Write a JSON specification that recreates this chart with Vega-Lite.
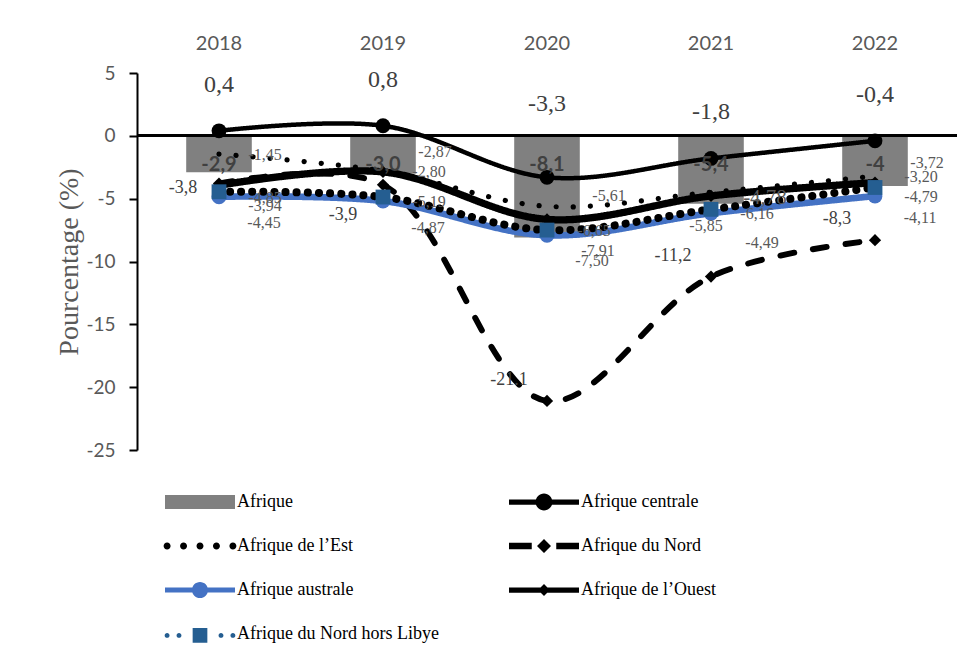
{
  "$schema": "https://vega.github.io/schema/vega-lite/v6.json",
  "width": 820,
  "height": 377,
  "autosize": "none",
  "padding": {"left": 137, "top": 73, "right": 15, "bottom": 214},
  "background": "white",
  "config": {
    "locale": {"number": {"decimal": ",", "thousands": " ", "grouping": [3], "currency": ["", " €"], "minus": "-"}},
    "view": {"stroke": null}
  },
  "data": {
    "values": [
      {"annee": "2018", "serie": "Afrique", "valeur": -2.9, "etiquette": "-2,9"},
      {"annee": "2019", "serie": "Afrique", "valeur": -3.0, "etiquette": "-3,0"},
      {"annee": "2020", "serie": "Afrique", "valeur": -8.1, "etiquette": "-8,1"},
      {"annee": "2021", "serie": "Afrique", "valeur": -5.4, "etiquette": "-5,4"},
      {"annee": "2022", "serie": "Afrique", "valeur": -4.0, "etiquette": "-4"},
      {"annee": "2018", "serie": "Afrique centrale", "valeur": 0.4, "etiquette": "0,4"},
      {"annee": "2019", "serie": "Afrique centrale", "valeur": 0.8, "etiquette": "0,8"},
      {"annee": "2020", "serie": "Afrique centrale", "valeur": -3.3, "etiquette": "-3,3"},
      {"annee": "2021", "serie": "Afrique centrale", "valeur": -1.8, "etiquette": "-1,8"},
      {"annee": "2022", "serie": "Afrique centrale", "valeur": -0.4, "etiquette": "-0,4"},
      {"annee": "2018", "serie": "Afrique de l’Est", "valeur": -1.45, "etiquette": "-1,45"},
      {"annee": "2019", "serie": "Afrique de l’Est", "valeur": -2.80, "etiquette": "-2,80"},
      {"annee": "2020", "serie": "Afrique de l’Est", "valeur": -5.61, "etiquette": "-5,61"},
      {"annee": "2021", "serie": "Afrique de l’Est", "valeur": -4.49, "etiquette": "-4,49"},
      {"annee": "2022", "serie": "Afrique de l’Est", "valeur": -3.20, "etiquette": "-3,20"},
      {"annee": "2018", "serie": "Afrique du Nord", "valeur": -3.8, "etiquette": "-3,8"},
      {"annee": "2019", "serie": "Afrique du Nord", "valeur": -3.9, "etiquette": "-3,9"},
      {"annee": "2020", "serie": "Afrique du Nord", "valeur": -21.1, "etiquette": "-21.1"},
      {"annee": "2021", "serie": "Afrique du Nord", "valeur": -11.2, "etiquette": "-11,2"},
      {"annee": "2022", "serie": "Afrique du Nord", "valeur": -8.3, "etiquette": "-8,3"},
      {"annee": "2018", "serie": "Afrique australe", "valeur": -4.85, "etiquette": "-4,85"},
      {"annee": "2019", "serie": "Afrique australe", "valeur": -5.19, "etiquette": "-5,19"},
      {"annee": "2020", "serie": "Afrique australe", "valeur": -7.91, "etiquette": "-7,91"},
      {"annee": "2021", "serie": "Afrique australe", "valeur": -6.16, "etiquette": "-6,16"},
      {"annee": "2022", "serie": "Afrique australe", "valeur": -4.79, "etiquette": "-4,79"},
      {"annee": "2018", "serie": "Afrique de l’Ouest", "valeur": -3.94, "etiquette": "-3,94"},
      {"annee": "2019", "serie": "Afrique de l’Ouest", "valeur": -2.87, "etiquette": "-2,87"},
      {"annee": "2020", "serie": "Afrique de l’Ouest", "valeur": -6.65, "etiquette": "-6,65"},
      {"annee": "2021", "serie": "Afrique de l’Ouest", "valeur": -4.78, "etiquette": "-4,78"},
      {"annee": "2022", "serie": "Afrique de l’Ouest", "valeur": -3.72, "etiquette": "-3,72"},
      {"annee": "2018", "serie": "Afrique du Nord hors Libye", "valeur": -4.45, "etiquette": "-4,45"},
      {"annee": "2019", "serie": "Afrique du Nord hors Libye", "valeur": -4.87, "etiquette": "-4,87"},
      {"annee": "2020", "serie": "Afrique du Nord hors Libye", "valeur": -7.50, "etiquette": "-7,50"},
      {"annee": "2021", "serie": "Afrique du Nord hors Libye", "valeur": -5.85, "etiquette": "-5,85"},
      {"annee": "2022", "serie": "Afrique du Nord hors Libye", "valeur": -4.11, "etiquette": "-4,11"}
    ]
  },
  "encoding": {
    "x": {
      "field": "annee", "type": "ordinal",
      "scale": {"type": "band", "paddingInner": 0, "paddingOuter": 0},
      "axis": {"orient": "top", "title": null, "domain": false, "ticks": false, "labelAngle": 0,
               "labelFont": "Lato", "labelFontSize": 20, "labelColor": "#595959", "labelPadding": 20}
    },
    "y": {
      "field": "valeur", "type": "quantitative",
      "scale": {"domain": [-25, 5], "nice": false, "zero": false},
      "axis": {"title": "Pourcentage (%)", "titleFont": "Liberation Serif", "titleFontSize": 28,
               "titleFontWeight": "normal", "titleColor": "#595959", "titlePadding": 2,
               "values": [-25, -20, -15, -10, -5, 0, 5], "grid": false,
               "domainColor": "black", "domainWidth": 2, "tickColor": "black", "tickWidth": 2, "tickSize": 8,
               "labelFont": "Lato", "labelFontSize": 19, "labelColor": "#595959", "labelPadding": 14}
    }
  },
  "layer": [
    {
      "transform": [{"filter": "datum.serie == 'Afrique'"}],
      "mark": {"type": "bar", "color": "#808080", "width": {"band": 0.4}},
      "encoding": {}
    },
    {
      "mark": {"type": "rule", "color": "black", "strokeWidth": 2},
      "encoding": {"x": null, "y": {"datum": 0}}
    },
    {
      "transform": [{"filter": "datum.serie != 'Afrique'"}],
      "mark": {"type": "line", "interpolate": "catmull-rom", "strokeCap": "round"},
      "encoding": {
        "stroke": {"field": "serie", "type": "nominal", "legend": null,
                   "scale": {"domain": ["Afrique centrale", "Afrique de l’Est", "Afrique du Nord", "Afrique australe", "Afrique de l’Ouest", "Afrique du Nord hors Libye"],
                             "range": ["#000000", "#000000", "#000000", "#4472C4", "#000000", "#000000"]}},
        "strokeDash": {"field": "serie", "type": "nominal", "legend": null,
                       "scale": {"domain": ["Afrique centrale", "Afrique de l’Est", "Afrique du Nord", "Afrique australe", "Afrique de l’Ouest", "Afrique du Nord hors Libye"],
                                 "range": [[1, 0], [0.1, 17], [14, 19], [1, 0], [1, 0], [0.1, 11]]}},
        "strokeWidth": {"field": "serie", "type": "nominal", "legend": null,
                        "scale": {"domain": ["Afrique centrale", "Afrique de l’Est", "Afrique du Nord", "Afrique australe", "Afrique de l’Ouest", "Afrique du Nord hors Libye"],
                                  "range": [4.5, 8, 5, 4, 4.5, 5]}},
        "order": {"field": "annee"}
      }
    },
    {
      "transform": [{"filter": "datum.serie == 'Afrique centrale' || datum.serie == 'Afrique australe'"}],
      "mark": {"type": "point", "shape": "circle", "filled": true, "size": 220, "opacity": 1},
      "encoding": {
        "color": {"field": "serie", "type": "nominal", "legend": null,
                  "scale": {"domain": ["Afrique centrale", "Afrique australe"], "range": ["#000000", "#4472C4"]}}
      }
    },
    {
      "transform": [{"filter": "datum.serie == 'Afrique du Nord' || datum.serie == 'Afrique de l’Ouest'"}],
      "mark": {"type": "point", "shape": "diamond", "filled": true, "size": 150, "color": "#000000", "opacity": 1},
      "encoding": {}
    },
    {
      "transform": [{"filter": "datum.serie == 'Afrique du Nord hors Libye'"}],
      "mark": {"type": "point", "shape": "square", "filled": true, "size": 220, "color": "#255E91", "opacity": 1},
      "encoding": {}
    },
    {
      "transform": [{"filter": "datum.annee == '2018'"}],
      "mark": {"type": "point", "filled": true, "opacity": 0},
      "encoding": {
        "shape": {"field": "serie", "type": "nominal",
                  "scale": {"domain": ["Afrique", "Afrique centrale", "Afrique de l’Est", "Afrique du Nord", "Afrique australe", "Afrique de l’Ouest", "Afrique du Nord hors Libye"],
                            "range": [
                              "M-1,-0.2H1V0.2H-1Z",
                              "M-1,-0.075H1V0.075H-1Z M0.24,0A0.24,0.24,0,1,1,-0.24,0A0.24,0.24,0,1,1,0.24,0Z",
                              "M-0.84,0A0.1,0.1,0,1,1,-1.04,0A0.1,0.1,0,1,1,-0.84,0Z M-0.37,0A0.1,0.1,0,1,1,-0.57,0A0.1,0.1,0,1,1,-0.37,0Z M0.1,0A0.1,0.1,0,1,1,-0.1,0A0.1,0.1,0,1,1,0.1,0Z M0.57,0A0.1,0.1,0,1,1,0.37,0A0.1,0.1,0,1,1,0.57,0Z M1.04,0A0.1,0.1,0,1,1,0.84,0A0.1,0.1,0,1,1,1.04,0Z",
                              "M-1,-0.09H-0.35V0.09H-1Z M0.35,-0.09H1V0.09H0.35Z M0,-0.2L0.2,0L0,0.2L-0.2,0Z",
                              "M-1,-0.07H1V0.07H-1Z M0.23,0A0.23,0.23,0,1,1,-0.23,0A0.23,0.23,0,1,1,0.23,0Z",
                              "M-1,-0.075H1V0.075H-1Z M0,-0.17L0.17,0L0,0.17L-0.17,0Z",
                              "M-0.87,0.04A0.07,0.07,0,1,1,-1.01,0.04A0.07,0.07,0,1,1,-0.87,0.04Z M-0.53,0.04A0.07,0.07,0,1,1,-0.67,0.04A0.07,0.07,0,1,1,-0.53,0.04Z M0.67,0.04A0.07,0.07,0,1,1,0.53,0.04A0.07,0.07,0,1,1,0.67,0.04Z M1.01,0.04A0.07,0.07,0,1,1,0.87,0.04A0.07,0.07,0,1,1,1.01,0.04Z M-0.21,-0.17H0.21V0.25H-0.21Z"
                            ]},
                  "legend": {"title": null, "orient": "none", "legendX": 28, "legendY": 394, "columns": 2, "direction": "horizontal",
                             "symbolSize": 4900, "symbolStrokeWidth": 0, "symbolOpacity": 1,
                             "labelFont": "Liberation Serif", "labelFontSize": 18, "labelColor": "#000000", "labelOffset": 2, "labelLimit": 400,
                             "columnPadding": 70, "rowPadding": 0}},
        "fill": {"field": "serie", "type": "nominal",
                 "scale": {"domain": ["Afrique", "Afrique centrale", "Afrique de l’Est", "Afrique du Nord", "Afrique australe", "Afrique de l’Ouest", "Afrique du Nord hors Libye"],
                           "range": ["#808080", "#000000", "#000000", "#000000", "#4472C4", "#000000", "#255E91"]},
                 "legend": {"title": null, "orient": "none", "legendX": 28, "legendY": 394, "columns": 2, "direction": "horizontal",
                            "symbolSize": 4900, "symbolStrokeWidth": 0, "symbolOpacity": 1,
                            "labelFont": "Liberation Serif", "labelFontSize": 18, "labelColor": "#000000", "labelOffset": 2, "labelLimit": 400,
                            "columnPadding": 70, "rowPadding": 0}}
      }
    },
    {
      "transform": [{"filter": "datum.serie == 'Afrique'"}],
      "mark": {"type": "text", "font": "Lato", "fontSize": 20, "fontWeight": "bold", "color": "#404040"},
      "encoding": {"y": {"datum": -2.3}, "text": {"field": "etiquette"}}
    },
    {
      "transform": [{"filter": "datum.serie == 'Afrique centrale' && datum.annee != '2020'"}],
      "mark": {"type": "text", "font": "Liberation Serif", "fontSize": 24, "color": "#404040", "dy": -46},
      "encoding": {"text": {"field": "etiquette"}}
    },
    {
      "transform": [{"filter": "datum.serie == 'Afrique centrale' && datum.annee == '2020'"}],
      "mark": {"type": "text", "font": "Liberation Serif", "fontSize": 24, "color": "#404040", "dy": -73},
      "encoding": {"text": {"field": "etiquette"}}
    },
    {
      "transform": [{"filter": "datum.serie == 'Afrique du Nord' && datum.annee >= '2020'"}],
      "mark": {"type": "text", "font": "Liberation Serif", "fontSize": 18, "color": "#404040", "dx": -38, "dy": -21},
      "encoding": {"text": {"field": "etiquette"}}
    },
    {
      "transform": [{"filter": "datum.serie == 'Afrique du Nord' && datum.annee == '2018'"}],
      "mark": {"type": "text", "font": "Liberation Serif", "fontSize": 18, "color": "#404040", "dx": -36, "dy": 4},
      "encoding": {"text": {"field": "etiquette"}}
    },
    {
      "transform": [{"filter": "datum.serie == 'Afrique du Nord' && datum.annee == '2019'"}],
      "mark": {"type": "text", "font": "Liberation Serif", "fontSize": 18, "color": "#404040", "dx": -40, "dy": 30},
      "encoding": {"text": {"field": "etiquette"}}
    },
    {
      "transform": [{"filter": "(datum.serie == 'Afrique de l’Est' && datum.annee != '2021' && datum.annee != '2020') || (datum.serie == 'Afrique australe' && datum.annee != '2020')"}],
      "mark": {"type": "text", "font": "Liberation Serif", "fontSize": 16, "color": "#595959", "dx": 46, "dy": 1},
      "encoding": {"text": {"field": "etiquette"}}
    },
    {
      "transform": [{"filter": "datum.serie == 'Afrique de l’Est' && datum.annee == '2020'"}],
      "mark": {"type": "text", "font": "Liberation Serif", "fontSize": 16, "color": "#595959", "dx": 62, "dy": -10},
      "encoding": {"text": {"field": "etiquette"}}
    },
    {
      "transform": [{"filter": "datum.serie == 'Afrique australe' && datum.annee == '2020'"}],
      "mark": {"type": "text", "font": "Liberation Serif", "fontSize": 16, "color": "#595959", "dx": 51, "dy": 16},
      "encoding": {"text": {"field": "etiquette"}}
    },
    {
      "transform": [{"filter": "datum.serie == 'Afrique de l’Est' && datum.annee == '2021'"}],
      "mark": {"type": "text", "font": "Liberation Serif", "fontSize": 16, "color": "#595959", "dx": 51, "dy": 51},
      "encoding": {"text": {"field": "etiquette"}}
    },
    {
      "transform": [{"filter": "datum.serie == 'Afrique de l’Ouest' && (datum.annee == '2019' || datum.annee == '2022')"}],
      "mark": {"type": "text", "font": "Liberation Serif", "fontSize": 16, "color": "#595959", "dx": 52, "dy": -20},
      "encoding": {"text": {"field": "etiquette"}}
    },
    {
      "transform": [{"filter": "datum.serie == 'Afrique de l’Ouest' && datum.annee == '2018'"}],
      "mark": {"type": "text", "font": "Liberation Serif", "fontSize": 16, "color": "#595959", "dx": 46, "dy": 21},
      "encoding": {"text": {"field": "etiquette"}}
    },
    {
      "transform": [{"filter": "datum.serie == 'Afrique de l’Ouest' && datum.annee == '2020'"}],
      "mark": {"type": "text", "font": "Liberation Serif", "fontSize": 16, "color": "#595959", "dx": 47, "dy": 12},
      "encoding": {"text": {"field": "etiquette"}}
    },
    {
      "transform": [{"filter": "datum.serie == 'Afrique de l’Ouest' && datum.annee == '2021'"}],
      "mark": {"type": "text", "font": "Liberation Serif", "fontSize": 21, "color": "#595959", "dx": 54, "dy": 2},
      "encoding": {"text": {"field": "etiquette"}}
    },
    {
      "transform": [{"filter": "datum.serie == 'Afrique du Nord hors Libye' && datum.annee != '2021'"}],
      "mark": {"type": "text", "font": "Liberation Serif", "fontSize": 16, "color": "#595959", "dx": 45, "dy": 31},
      "encoding": {"text": {"field": "etiquette"}}
    },
    {
      "transform": [{"filter": "datum.serie == 'Afrique du Nord hors Libye' && datum.annee == '2021'"}],
      "mark": {"type": "text", "font": "Liberation Serif", "fontSize": 16, "color": "#595959", "dx": -5, "dy": 17},
      "encoding": {"text": {"field": "etiquette"}}
    }
  ]
}
